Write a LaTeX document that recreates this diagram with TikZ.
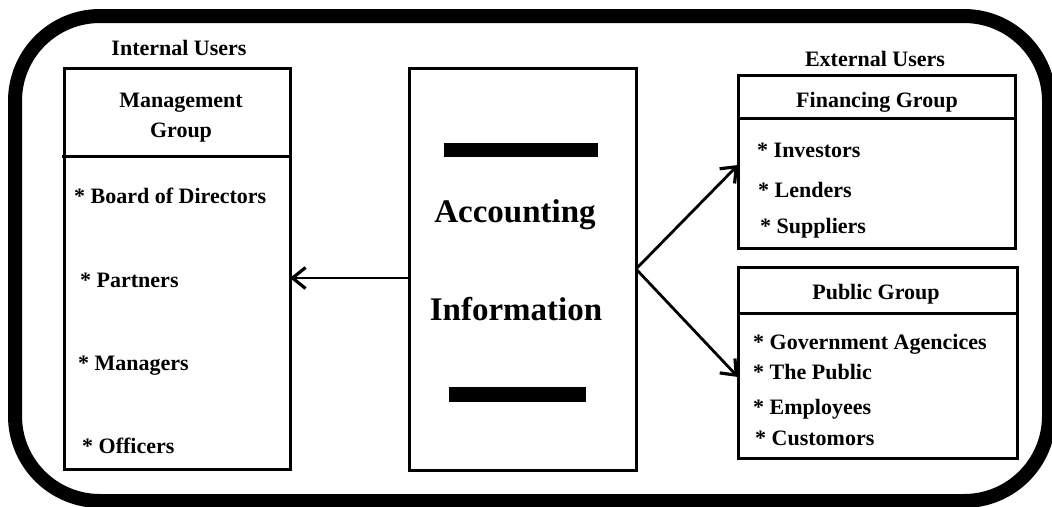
\documentclass[tikz,border=0pt]{standalone}
\usepackage{fontspec}
\setmainfont{Liberation Serif}
\usetikzlibrary{arrows.meta}
\begin{document}
\begin{tikzpicture}[x=1pt,y=-1pt,
  box/.style={draw,line width=3pt,inner sep=0pt,outer sep=0pt,anchor=north west},
  divider/.style={line width=3pt},
  txt/.style={font=\fontsize{22}{30}\selectfont\bfseries,inner sep=0pt},
  bigtxt/.style={font=\fontsize{33}{40}\selectfont\bfseries,inner sep=0pt},
  arr/.style={line width=2.8pt,-{Straight Barb[length=13pt,width=21pt,line width=3.2pt]}}]
\useasboundingbox (0,0) rectangle (1052,506);
\clip (0,0) rectangle (1052,506);
\fill[white] (0,0) rectangle (1052,506);
% outer frame
\draw[line width=14pt,rounded corners=85pt] (15,16) rectangle (1049,501);
% boxes
\node[box,minimum width=226pt,minimum height=401pt] (mg) at (64,68) {};
\node[box,minimum width=227pt,minimum height=402pt] (ai) at (409,68) {};
\node[box,minimum width=277pt,minimum height=173pt] (fin) at (738,75) {};
\node[box,minimum width=279pt,minimum height=191pt] (pub) at (738,267) {};
% dividers
\draw[divider] ([xshift=-2pt,yshift=-88pt]mg.north west) -- ([yshift=-88pt]mg.north east);
\draw[divider] ([yshift=-43pt]fin.north west) -- ([xshift=2pt,yshift=-43pt]fin.north east);
\draw[divider] ([yshift=-46pt]pub.north west) -- ([yshift=-46pt]pub.north east);
% bars
\fill (444,143) rectangle (598,157);
\fill (449,387) rectangle (586,402);
% headings
\node[txt,anchor=base] (iu) at (179,55) {Internal Users};
\node[txt,anchor=base] (eu) at (875,66) {External Users};
\node[txt,anchor=base] (mgt1) at (181,107) {Management};
\node[txt,anchor=base] (mgt2) at (181,137) {Group};
\node[txt,anchor=base] (fint) at (877,107) {Financing Group};
\node[txt,anchor=base] (pubt) at (876,299) {Public Group};
\node[bigtxt,anchor=base] (acc) at (515,222) {Accounting};
\node[bigtxt,anchor=base] (inf) at (516,320) {Information};
% internal items
\node[txt,anchor=base west] (m1) at (74,203) {* Board of Directors};
\node[txt,anchor=base west] (m2) at (80,287) {* Partners};
\node[txt,anchor=base west] (m3) at (78,370) {* Managers};
\node[txt,anchor=base west] (m4) at (82,453) {* Officers};
% financing items
\node[txt,anchor=base west] (f1) at (757,157) {* Investors};
\node[txt,anchor=base west] (f2) at (758,197) {* Lenders};
\node[txt,anchor=base west] (f3) at (760,233) {* Suppliers};
% public items
\node[txt,anchor=base west] (p1) at (753,349) {* Government Agencices};
\node[txt,anchor=base west] (p2) at (753,379) {* The Public};
\node[txt,anchor=base west] (p3) at (753,414) {* Employees};
\node[txt,anchor=base west] (p4) at (755,445) {* Customors};
% arrows
\draw[arr] ([yshift=-9pt]ai.west) -- ([yshift=-9.5pt]mg.east);
\draw[arr] (ai.east) -- ([yshift=-3.5pt]fin.west);
\draw[arr] (ai.east) -- ([yshift=-14.5pt]pub.west);
\end{tikzpicture}
\end{document}
